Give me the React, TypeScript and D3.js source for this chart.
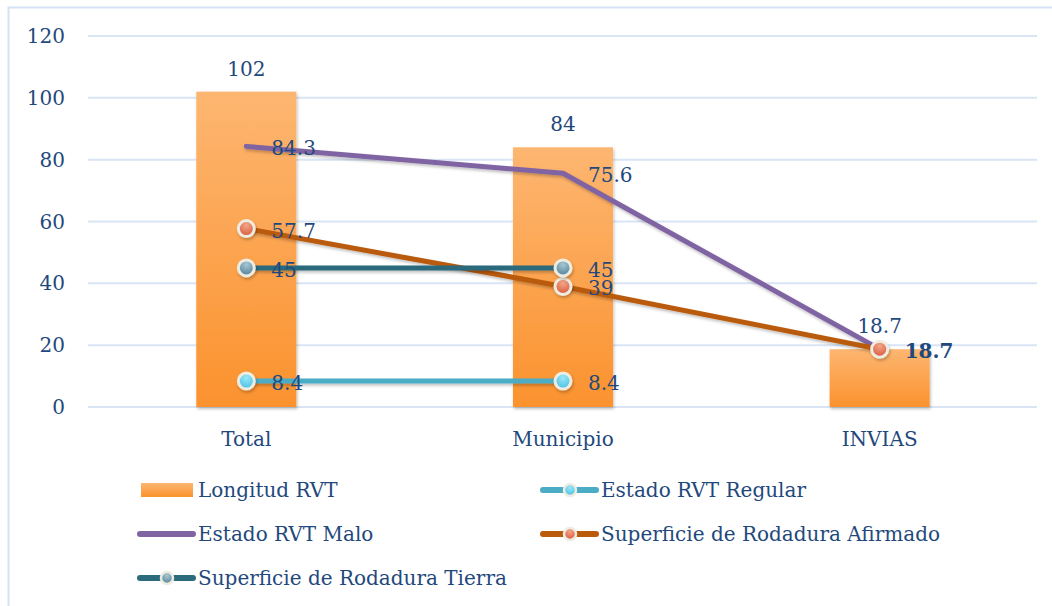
import React from 'react';
import * as d3 from 'd3';

const categories = ['Total', 'Municipio', 'INVIAS'];
const longitudRVT = [102, 84, 18.7];
const estadoRegular = [8.4, 8.4, null];
const estadoMalo = [84.3, 75.6, 18.7];
const superficieAfirmado = [57.7, 39, 18.7];
const superficieTierra = [45, 45, null];
const yTicks = [0, 20, 40, 60, 80, 100, 120];

const W = 1052;
const H = 606;
const FONT = '"DejaVu Serif", serif';
const TEXT = '#1F497D';

type Series = {
  name: string;
  values: (number | null)[];
  color: string;
  marker: string | null;
  // which point labels are shown and whether bold
  labels: ('n' | 'b' | null)[];
};

const lineSeries: Series[] = [
  { name: 'Estado RVT Regular', values: estadoRegular, color: '#4BACC6', marker: 'mkRegular', labels: ['n', 'n', null] },
  { name: 'Estado RVT Malo', values: estadoMalo, color: '#8064A2', marker: null, labels: ['n', 'n', null] },
  { name: 'Superficie de Rodadura Afirmado', values: superficieAfirmado, color: '#BA5A0B', marker: 'mkAfirmado', labels: ['n', 'n', 'b'] },
  { name: 'Superficie de Rodadura Tierra', values: superficieTierra, color: '#2B6B7B', marker: 'mkTierra', labels: ['n', 'n', null] },
];

const App = () => {
  const x = d3.scalePoint<string>().domain(categories).range([88, 1038]).padding(0.5);
  const y = d3.scaleLinear().domain([0, 120]).range([407, 36]);
  const barW = x.step() * 0.316;

  const line = d3
    .line<[string, number | null]>()
    .defined((d) => d[1] != null)
    .x((d) => x(d[0]) as number)
    .y((d) => y(d[1] as number));

  const legend = [
    { type: 'bar', name: 'Longitud RVT', col: 0, row: 0 },
    { type: 'line', s: lineSeries[0], col: 1, row: 0 },
    { type: 'line', s: lineSeries[1], col: 0, row: 1 },
    { type: 'line', s: lineSeries[2], col: 1, row: 1 },
    { type: 'line', s: lineSeries[3], col: 0, row: 2 },
  ];
  const legendCol = [138, 541];
  const legendRow = d3.scaleLinear().domain([0, 1]).range([490, 534]);

  return (
    <svg width={W} height={H} style={{ position: 'absolute', left: 0, top: 0, background: '#fff' }} fontFamily={FONT}>
      <defs>
        <linearGradient id="barGrad" x1="0" y1="0" x2="0" y2="1">
          <stop offset="0%" stopColor="#FDB671" />
          <stop offset="100%" stopColor="#FB922E" />
        </linearGradient>
        <radialGradient id="mkRegular" cx="50%" cy="30%" r="70%">
          <stop offset="0%" stopColor="#9BE6F8" />
          <stop offset="100%" stopColor="#46C0E2" />
        </radialGradient>
        <radialGradient id="mkAfirmado" cx="50%" cy="30%" r="70%">
          <stop offset="0%" stopColor="#F3A68A" />
          <stop offset="100%" stopColor="#D9573A" />
        </radialGradient>
        <radialGradient id="mkTierra" cx="50%" cy="30%" r="70%">
          <stop offset="0%" stopColor="#A9C7D5" />
          <stop offset="100%" stopColor="#4E8196" />
        </radialGradient>
        <filter id="shadow" filterUnits="userSpaceOnUse" x={0} y={0} width={W} height={H}>
          <feDropShadow dx="1" dy="2" stdDeviation="1.5" floodColor="#000" floodOpacity="0.25" />
        </filter>
      </defs>

      {/* frame */}
      <rect x={8.5} y={7.5} width={W} height={H} fill="none" stroke="#D5E2F3" strokeWidth={2} />

      {/* gridlines + y ticks */}
      {yTicks.map((t) => (
        <g key={t}>
          <line x1={88} x2={1037} y1={y(t)} y2={y(t)} stroke="#D9E5F5" strokeWidth={2} />
          <text x={65} y={y(t)} dy="0.35em" textAnchor="end" fontSize={20} fill={TEXT}>
            {t}
          </text>
        </g>
      ))}

      {/* bars */}
      {categories.map((c, i) => (
        <g key={c}>
          <rect
            x={(x(c) as number) - barW / 2}
            y={y(longitudRVT[i])}
            width={barW}
            height={y(0) - y(longitudRVT[i])}
            fill="url(#barGrad)"
            filter="url(#shadow)"
          />
          <text x={x(c)} y={y(longitudRVT[i]) - 16} textAnchor="middle" fontSize={20} fill={TEXT}>
            {longitudRVT[i]}
          </text>
          <text x={x(c)} y={446} textAnchor="middle" fontSize={20} fill={TEXT}>
            {c}
          </text>
        </g>
      ))}

      {/* lines */}
      {lineSeries.map((s) => (
        <g key={s.name}>
          <path
            d={line(categories.map((c, i) => [c, s.values[i]])) || ''}
            fill="none"
            stroke={s.color}
            strokeWidth={5}
            strokeLinejoin="round"
            strokeLinecap="round"
            filter="url(#shadow)"
          />
          {s.marker &&
            categories.map((c, i) =>
              s.values[i] == null ? null : (
                <circle
                  key={c}
                  cx={x(c)}
                  cy={y(s.values[i] as number)}
                  r={8}
                  fill={`url(#${s.marker})`}
                  stroke="#EEECE1"
                  strokeWidth={3}
                  filter="url(#shadow)"
                />
              )
            )}
        </g>
      ))}

      {/* line labels */}
      {lineSeries.map((s) =>
        categories.map((c, i) =>
          s.values[i] == null || !s.labels[i] ? null : (
            <text
              key={s.name + c}
              x={(x(c) as number) + 25}
              y={y(s.values[i] as number) + 2}
              dy="0.35em"
              fontSize={20}
              fontWeight={s.labels[i] === 'b' ? 'bold' : 'normal'}
              fill={TEXT}
            >
              {s.values[i]}
            </text>
          )
        )
      )}

      {/* legend */}
      {legend.map((l, k) => {
        const lx = legendCol[l.col];
        const ly = legendRow(l.row);
        const label = l.type === 'bar' ? l.name : l.s!.name;
        return (
          <g key={k}>
            {l.type === 'bar' ? (
              <rect x={lx + 3} y={ly - 7} width={52} height={14} fill="url(#barGrad)" />
            ) : (
              <>
                <line x1={lx + 2} x2={lx + 55} y1={ly} y2={ly} stroke={l.s!.color} strokeWidth={6} strokeLinecap="round" />
                {l.s!.marker && (
                  <circle cx={lx + 29} cy={ly} r={6} fill={`url(#${l.s!.marker})`} stroke="#EEECE1" strokeWidth={2.5} />
                )}
              </>
            )}
            <text x={lx + 60} y={ly} dy="0.35em" fontSize={20} fill={TEXT}>
              {label}
            </text>
          </g>
        );
      })}
    </svg>
  );
};

export default App;
